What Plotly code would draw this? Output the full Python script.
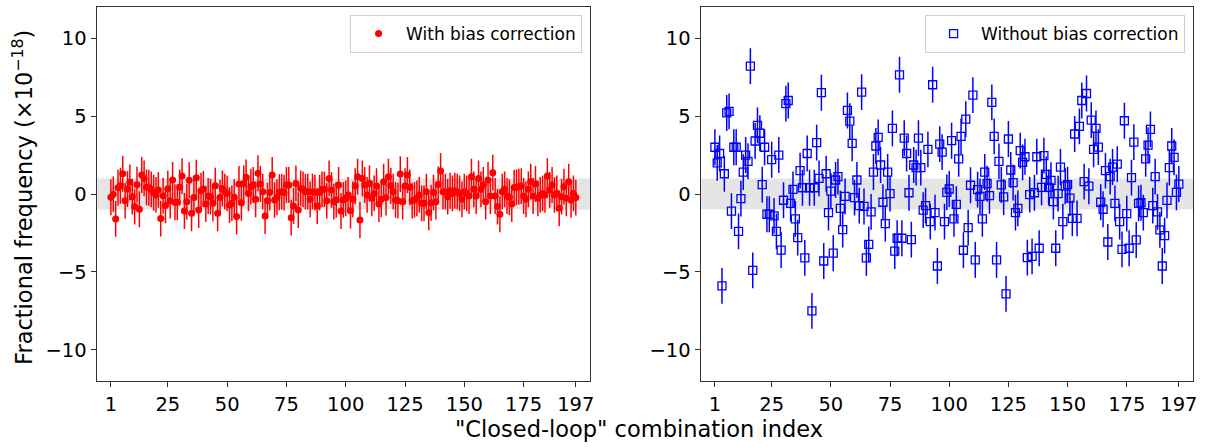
import plotly.graph_objects as go

# Combination index 1..197
index = list(range(1, 198))

# Fractional frequency (x1e-18), with bias correction
with_corr = [
    -0.21, -0.02, -1.6, 0.4, 0.53, 1.3, -0.43, 0.32, 0.75, -0.17,
    -0.81, 0.6, -0.98, 1.22, 1.0, 0.43, 0.4, 0.3, 0.08, -0.06,
    0.26, -1.58, -0.11, -0.73, 0.34, -0.43, 0.9, -0.53, -0.53, 0.43,
    1.15, -1.09, -0.49, 0.88, -1.24, -0.23, 1.05, -1.03, 0.21, 0.32,
    -0.64, -0.13, -0.17, -0.6, 0.53, -1.24, -0.23, 0.36,
    0.15, 0.04, -0.71, -0.6, -0.21, -1.45, 0.64, -0.56, 0.68, 1.07,
    0.04, 0.47, 0.58, -0.34, 1.33, 0.64, 0.15, -1.41, -0.43, 0.09,
    1.22, -0.38, -0.21, 0.11, 0.15, 0.09, 0.58, 0.58, -1.52, -0.77,
    0.68, -1.03, 0.36, 0.3, 0.15, 0.15, -0.34, 0.15, 0.09, -0.77,
    0.09, 0.3, 0.3, -0.43, 1.0, 0.26, -0.49, -0.38, 0.58, -1.09,
    -0.38,
    -0.28, -0.06, -1.07, -0.34, 0.51, 1.11, -1.67, 1.0, 0.58, -0.06,
    0.68, -0.28, 0.04, 0.51, -0.64, -0.34, 0.79, -0.23, 1.11, 0.53,
    0.15, -0.38, -0.43, 1.28, -0.49, 0.51, 1.22, 0.43, -0.43, -0.38,
    -0.28, -0.06, -0.6, -0.6, 0.15, -1.18, -0.56, 0.09, -0.49, 0.62,
    1.48, 0.15, 0.15, -0.17, 0.21, 0.04, 0.21, 0.15, 0.04, -0.34,
    0.15, 0.04, -0.13, 1.11, 0.3, -0.13, 1.0, 0.3, 0.58, -0.49,
    0.9, -0.13, 1.37, -0.13, -0.81, -1.3, 0.15, 0.3, -0.13, -0.21,
    -0.64, 0.41, 0.43, 0.47, 0.51, -0.13, -0.34, 0.3, 0.79, -0.13,
    0.64, -0.28, -0.06, 0.04, -0.06, 1.15, 0.26, 0.58, -0.06, 0.04,
    -0.92, -0.17, 0.47, -0.28, 0.79, -0.38, 0.04, -0.23,
]

# Fractional frequency (x1e-18), without bias correction
without_corr = [
    3.0, 2.0, 2.6, -5.9, 1.3, 5.2, 5.3, -1.1, 3.0, 3.0,
    -2.4, -0.3, 1.4, 2.5, 2.1, 8.2, -4.9, 3.4, 4.4, 3.9,
    0.6, 3.0, -1.3, -1.3, 2.2, -1.4, -2.4, 2.5, -3.6, -0.4,
    5.8, 6.0, -0.6, 0.3, -1.6, -2.8, 1.5, 0.4, -4.1, 2.6,
    0.4, -7.5, 0.4, 3.3, 1.0, 6.5, -4.3, 1.3, -1.2,
    0.19, -3.8, 0.9, 1.11, -0.92, -2.29, -0.15, 5.36, 4.68, 3.25,
    -0.23, 0.9, -0.75, 6.54, -0.8, -4.1, -3.23, -1.15, 1.41, 3.08,
    3.63, 1.86, -0.53, -1.9, 1.41, 0.02, 4.21, -3.67, -2.84, 7.65,
    -2.84, 3.59, 2.6, 0.08, -2.93, 1.86, 1.69, 3.59, 1.69, -1.03,
    -0.75, 2.86, -1.77, 7.01, -1.2, -4.62, 3.2, 2.69, -1.77, 0.1,
    0.32, 3.42, -1.6, -0.66, 2.26, 3.7, -3.61, 4.8, -2.16, 0.56,
    6.35, -4.23, 0.28, -0.15, -1.6, 1.41, 0.66, -0.11, 5.88, 3.7,
    -4.23, 2.09, 0.58, -0.19, -6.41, 3.53, 1.54, 0.73, -1.2, -0.92,
    2.78, 2.03, 2.39, -4.08, -0.04, -4.0, 0.08, 2.39, -3.48, 0.43,
    2.46, 1.26, 0.43, 0.88, -0.49, -3.48, 0.02, 1.73, -1.77, 0.5,
    0.6, -0.26, -1.56, 3.85, -1.56, 4.34, 6.0, 0.79, 6.45, 0.5,
    4.74, 2.86, 4.21, 3.01, -0.53, -0.98, 1.5, -3.08, 1.11, 1.73,
    -0.6, 1.92, -1.77, -3.55, 4.7, -1.26, -3.48, 1.05, 3.33, -2.95,
    -0.6, -0.56, -1.2, 2.26, 3.14, 4.15, -0.75, 1.11, -1.15, -2.3,
    -4.62, -2.67, -0.41, 1.69, 3.08, 2.35, 0.1, 0.64,
]

# One-sigma uncertainties
err_with = [1.15] * len(index)
err_without = [1.15] * len(index)

x_ticks = [1, 25, 50, 75, 100, 125, 150, 175, 197]
y_ticks = [-10, -5, 0, 5, 10]

FONT = "DejaVu Sans"

fig = go.Figure()

fig.add_trace(go.Scatter(
    x=index, y=with_corr, mode="markers", name="With bias correction",
    marker=dict(symbol="circle", size=7, color="red"),
    error_y=dict(type="data", array=err_with, color="red", thickness=1.5, width=0),
    xaxis="x", yaxis="y", legend="legend",
))

fig.add_trace(go.Scatter(
    x=index, y=without_corr, mode="markers", name="Without bias correction",
    marker=dict(symbol="square-open", size=8, color="blue", line=dict(width=1.3, color="blue")),
    error_y=dict(type="data", array=err_without, color="blue", thickness=1.5, width=0),
    xaxis="x2", yaxis="y2", legend="legend2",
))

W, H = 1207, 447
left_dom = [97 / W, 592 / W]
right_dom = [703 / W, 1197 / W]
y_dom = [1 - 381 / H, 1 - 7 / H]

axis_common = dict(
    showline=True, linecolor="#333333", linewidth=1.2, mirror=True,
    ticks="outside", ticklen=5, tickwidth=1, tickcolor="#333333",
    showgrid=False, zeroline=False,
    tickfont=dict(family=FONT, size=19.5, color="black"),
)

legend_common = dict(
    xanchor="right", yanchor="top", y=1 - 15 / H,
    bgcolor="white", bordercolor="#d0d0d0", borderwidth=1,
    itemwidth=45, font=dict(family=FONT, size=17),
)

fig.update_layout(
    width=W, height=H,
    margin=dict(l=0, r=0, t=0, b=0),
    paper_bgcolor="white", plot_bgcolor="white",
    font=dict(family=FONT, color="black"),
    xaxis=dict(domain=left_dom, range=[-5, 203], tickvals=x_ticks, anchor="y", **axis_common),
    yaxis=dict(domain=y_dom, range=[-12, 12], tickvals=y_ticks, anchor="x", **axis_common),
    xaxis2=dict(domain=right_dom, range=[-5, 203], tickvals=x_ticks, anchor="y2", **axis_common),
    yaxis2=dict(domain=y_dom, range=[-12, 12], tickvals=y_ticks, anchor="x2", **axis_common),
    legend=dict(x=584 / W, **legend_common),
    legend2=dict(x=1189 / W, **legend_common),
    showlegend=True,
)

# Shaded +/-1 band on both panels
for xr, yr in (("x", "y"), ("x2", "y2")):
    fig.add_shape(
        type="rect", xref=f"{xr} domain", yref=yr, x0=0, x1=1, y0=-1, y1=1,
        fillcolor="#e5e5e5", line=dict(width=0), layer="below",
    )

fig.add_annotation(
    text="Fractional frequency (×10<sup>−18</sup>)",
    xref="paper", yref="paper", x=22 / W, y=1 - 197 / H,
    textangle=-90, showarrow=False, xanchor="center", yanchor="middle",
    font=dict(family=FONT, size=22.5, color="black"),
)
fig.add_annotation(
    text="\"Closed-loop\" combination index",
    xref="paper", yref="paper", x=641 / W, y=1 - 429 / H,
    showarrow=False, xanchor="center", yanchor="middle",
    font=dict(family=FONT, size=22.5, color="black"),
)

fig.write_html("out.html")
